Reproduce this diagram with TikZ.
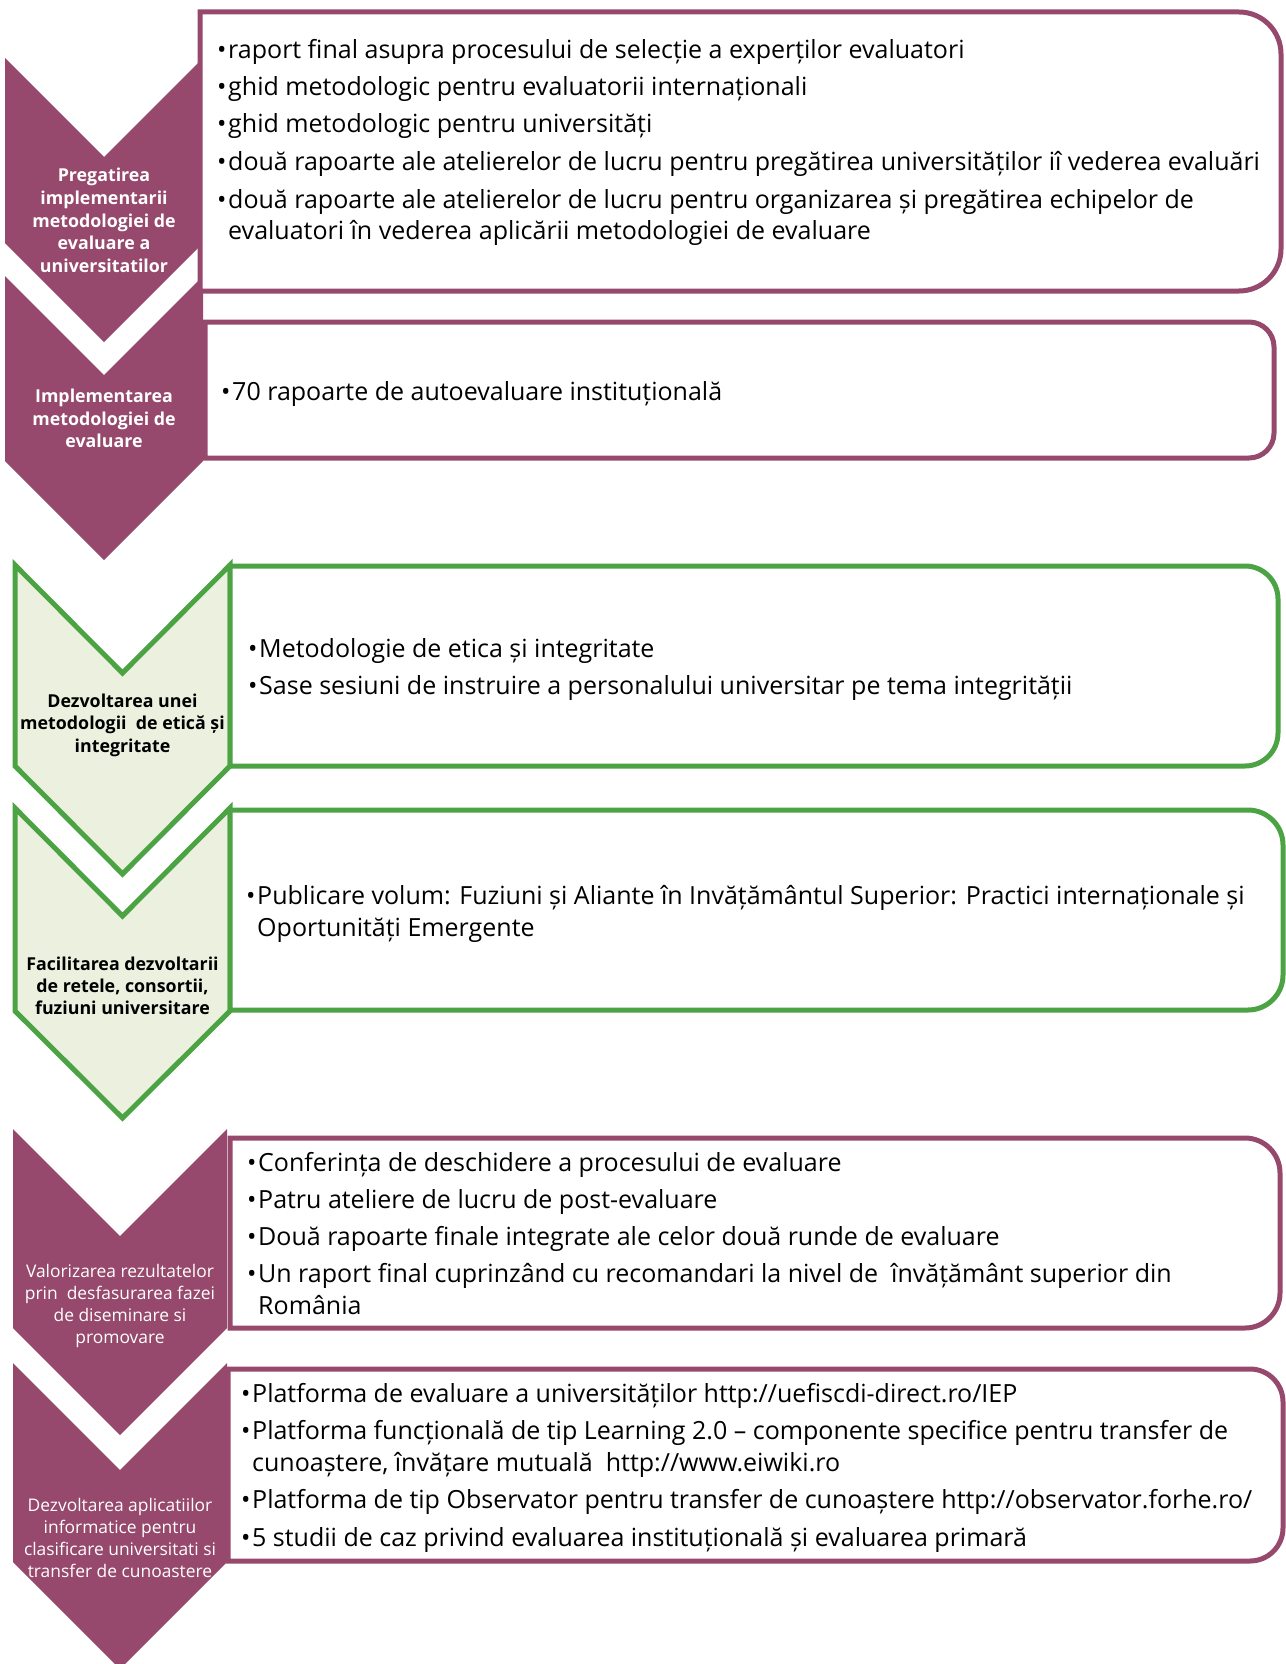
\documentclass[tikz,border=0pt]{standalone}
\usepackage{fontspec}
\setmainfont{Open Sans}
\definecolor{purp}{RGB}{150,73,108}
\definecolor{grn}{RGB}{76,163,68}
\definecolor{lgrn}{RGB}{235,241,222}
\newcommand{\bl}{\makebox[11pt][l]{•}}
\newcommand{\rrbox}[6]{%
  \draw[bx, draw=#1] (#2,#3) -- ({#4-#6},#3) arc[start angle=90,end angle=0,radius=#6pt]
    -- (#4,{#5-#6}) arc[start angle=0,end angle=-90,radius=#6pt] -- (#2,#5) -- cycle;}
\begin{document}
\begin{tikzpicture}[x=1pt,y=-1pt,
  bx/.style={line width=5pt, fill=white, line join=miter},
  gchev/.style={draw=grn, fill=lgrn, line width=5pt, line join=miter},
  itm/.style={anchor=base west, inner sep=0pt, text=black, font=\fontsize{25}{30}\selectfont},
  labb/.style={anchor=base, inner sep=0pt, font=\fontsize{17.8}{22}\selectfont\bfseries},
  labr/.style={anchor=base, inner sep=0pt, font=\fontsize{17.4}{22}\selectfont}]
\useasboundingbox (0,0) rectangle (1285,1664);

% purple chevrons (top)
\fill[purp] (5,58) -- (104,157) -- (203,58) -- (203,243) -- (104,342) -- (5,243) -- cycle;
\fill[purp] (5,276) -- (104,375) -- (203,276) -- (203,461) -- (104,560) -- (5,461) -- cycle;
% green chevrons
\draw[gchev] (15,565) -- (122.5,673) -- (230,565) -- (230,766) -- (122.5,874) -- (15,766) -- cycle;
\draw[gchev] (15,808) -- (122.5,916) -- (230,808) -- (230,1011) -- (122.5,1118) -- (15,1011) -- cycle;
% purple chevrons (bottom)
\fill[purp] (13,1129) -- (120,1236) -- (227,1129) -- (227,1328) -- (120,1435) -- (13,1328) -- cycle;
\fill[purp] (13,1363) -- (120,1470) -- (227,1363) -- (227,1562) -- (120,1669) -- (13,1562) -- cycle;

% text boxes
\rrbox{purp}{200}{12}{1281}{291}{42}
\rrbox{purp}{205}{322}{1274}{458}{25}
\rrbox{grn}{230}{566}{1278}{766}{33}
\rrbox{grn}{230}{810}{1283}{1010}{35}
\rrbox{purp}{230}{1138}{1280}{1328}{35}
\rrbox{purp}{228}{1369}{1283}{1561}{33}

% box 1
\node[itm] (t1a) at (217,59) {\bl raport final asupra procesului de selecție a experților evaluatori};
\node[itm] (t1b) at (217,96) {\bl ghid metodologic pentru evaluatorii internaționali};
\node[itm] (t1c) at (217,133) {\bl ghid metodologic pentru universități};
\node[itm] (t1d) at (217,171) {\bl două rapoarte ale atelierelor de lucru pentru pregătirea universităților iî vederea evaluări};
\node[itm] (t1e) at (217,208) {\bl două rapoarte ale atelierelor de lucru pentru organizarea și pregătirea echipelor de};
\node[itm] (t1f) at (228,239) {evaluatori în vederea aplicării metodologiei de evaluare};
% box 2
\node[itm] (t2a) at (221,400) {\bl 70 rapoarte de autoevaluare instituțională};
% box 3
\node[itm] (t3a) at (248,657) {\bl Metodologie de etica și integritate};
\node[itm] (t3b) at (248,694) {\bl Sase sesiuni de instruire a personalului universitar pe tema integrității};
% box 4
\node[itm] (t4a) at (246,904) {\bl Publicare volum: Fuziuni și Aliante în Invățământul Superior: Practici internaționale și};
\node[itm] (t4b) at (257,936) {Oportunități Emergente};
% box 5
\node[itm] (t5a) at (247,1171) {\bl Conferința de deschidere a procesului de evaluare};
\node[itm] (t5b) at (247,1208) {\bl Patru ateliere de lucru de post-evaluare};
\node[itm] (t5c) at (247,1245) {\bl Două rapoarte finale integrate ale celor două runde de evaluare};
\node[itm] (t5d) at (247,1282) {\bl Un raport final cuprinzând cu recomandari la nivel de \ învățământ superior din};
\node[itm] (t5e) at (258,1314) {România};
% box 6
\node[itm] (t6a) at (241,1402) {\bl Platforma de evaluare a universităților http://uefiscdi-direct.ro/IEP};
\node[itm] (t6b) at (241,1439) {\bl Platforma funcțională de tip Learning 2.0 – componente specifice pentru transfer de};
\node[itm] (t6c) at (252,1471) {cunoaștere, învățare mutuală \ http://www.eiwiki.ro};
\node[itm] (t6d) at (241,1508) {\bl Platforma de tip Observator pentru transfer de cunoaștere http://observator.forhe.ro/};
\node[itm] (t6e) at (241,1546) {\bl 5 studii de caz privind evaluarea instituțională și evaluarea primară};

% chevron labels
\foreach \t [count=\i] in {Pregatirea, implementarii, metodologiei de, evaluare a, universitatilor}
  \node[labb, text=white] (ca\i) at (104,{182+22.5*(\i-1)}) {\t};
\foreach \t [count=\i] in {Implementarea, metodologiei de, evaluare}
  \node[labb, text=white] (cb\i) at (104,{402.5+22.5*(\i-1)}) {\t};
\foreach \t [count=\i] in {Dezvoltarea unei, metodologii\ \ de etică și, integritate}
  \node[labb, text=black] (cc\i) at (122.5,{707+22.5*(\i-1)}) {\t};
\foreach \t [count=\i] in {Facilitarea dezvoltarii, {de retele, consortii,}, fuziuni universitare}
  \node[labb, text=black] (cd\i) at (122.5,{970+22*(\i-1)}) {\t};
\foreach \t [count=\i] in {Valorizarea rezultatelor, prin\ \ desfasurarea fazei, de diseminare si, promovare}
  \node[labr, text=white] (ce\i) at (120,{1277+22.3*(\i-1)}) {\t};
\foreach \t [count=\i] in {Dezvoltarea aplicatiilor, informatice pentru, clasificare universitati si, transfer de cunoastere}
  \node[labr, text=white] (cf\i) at (120,{1511+22*(\i-1)}) {\t};
\end{tikzpicture}
\end{document}
